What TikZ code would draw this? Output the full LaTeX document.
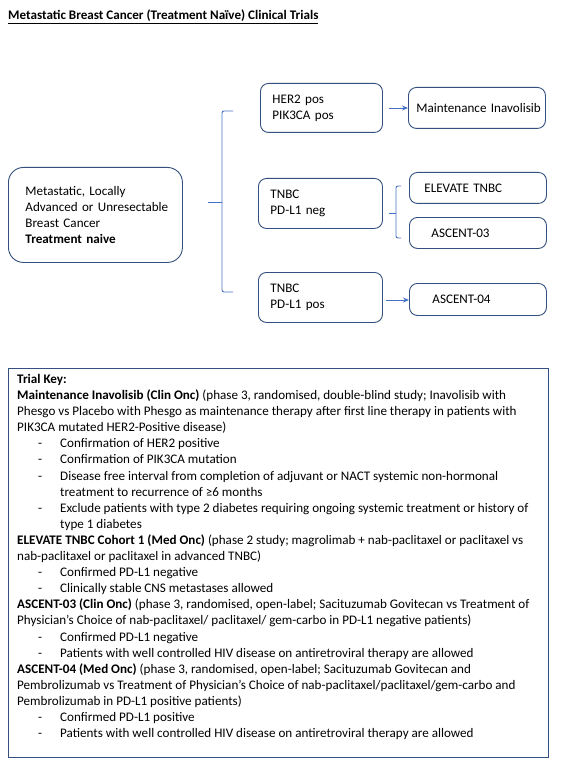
\documentclass[tikz,border=0pt]{standalone}
\usepackage{fontspec}
\setmainfont{Carlito}
\usetikzlibrary{arrows.meta}
\definecolor{boxline}{HTML}{34507E}
\definecolor{linkblue}{HTML}{4472C4}
\definecolor{keyline}{HTML}{34507E}
\newcommand{\bul}{\makebox[43pt][l]{\hspace{21pt}-}}
\newcommand{\ind}{\hspace{43pt}}
\newcommand{\oneln}[1]{\mbox{#1}}
\begin{document}
\begin{tikzpicture}[x=1pt,y=-1pt,
  every node/.style={font=\fontsize{13.1}{16.1}\selectfont, text=black},
  rbox/.style={draw=boxline, line width=0.9pt, rounded corners=8pt, align=left, anchor=north west, inner ysep=0pt},
  link/.style={draw=linkblue, line width=0.9pt, -{Stealth[length=6pt,width=5pt]}},
  brk/.style={draw=linkblue, line width=0.9pt, rounded corners=2pt}]
\useasboundingbox (0,0) rectangle (561,767);
\fill[white] (0,0) rectangle (561,767);

\node[anchor=west, inner sep=0pt, font=\fontsize{13.1}{16}\selectfont\bfseries] (title) at (8,17) {\underline{Metastatic Breast Cancer (Treatment Naïve) Clinical Trials}};

% main box
\node[rbox, rounded corners=15pt, minimum width=174pt, minimum height=95pt, text width=140pt, inner xsep=17pt] (main) at (8,167)
  {\oneln{Metastatic, Locally}\\\oneln{Advanced or Unresectable}\\\oneln{Breast Cancer}\\\oneln{\textbf{Treatment naive}}};

% bracket 1
\coordinate (b1t) at (233,111);
\coordinate (b1b) at (233,292);
\coordinate (b1m) at (208,202);
\draw[brk] (b1t) -- (222,111) -- (222,292) -- (b1b);
\draw[brk] (b1m) -- (222,202);

% HER2 box
\node[rbox, minimum width=122pt, minimum height=49pt, text width=98pt, inner xsep=12pt] (her2) at (260,83)
  {\oneln{HER2 pos}\\\oneln{PIK3CA pos}};
\node[rbox, minimum width=137pt, minimum height=41pt, text width=129pt, inner xsep=4pt] (inav) at (408,87)
  {\oneln{\hspace{4pt}Maintenance Inavolisib}};
\draw[link] ([xshift=6pt]her2.east |- 0,108) -- (inav.west |- 0,108);

% TNBC neg
\node[rbox, minimum width=124pt, minimum height=50pt, text width=100pt, inner xsep=12pt] (neg) at (258,178)
  {\oneln{TNBC}\\\oneln{PD-L1 neg}};
\node[rbox, minimum width=137pt, minimum height=31pt, text width=115pt, inner xsep=11pt] (elev) at (409,172)
  {\oneln{\hspace{4pt}ELEVATE TNBC}};
\node[rbox, minimum width=137pt, minimum height=31pt, text width=115pt, inner xsep=11pt] (a03) at (409,217)
  {\oneln{\hspace{11pt}ASCENT-03}};
\coordinate (b2t) at (401,186);
\coordinate (b2b) at (401,238);
\coordinate (b2m) at (389,213);
\draw[brk] (b2t) -- (396,186) -- (396,238) -- (b2b);
\draw[brk] (b2m) -- (396,213);

% TNBC pos
\node[rbox, minimum width=124pt, minimum height=50pt, text width=100pt, inner xsep=12pt] (pos) at (258,272)
  {\oneln{TNBC}\\\oneln{PD-L1 pos}};
\node[rbox, minimum width=137pt, minimum height=32pt, text width=115pt, inner xsep=11pt] (a04) at (409,283)
  {\oneln{\hspace{12pt}ASCENT-04}};
\draw[link] ([xshift=3pt]pos.east |- 0,300) -- (a04.west |- 0,300);

% key
\node[draw=keyline, line width=0.9pt, anchor=north west, minimum width=540pt, minimum height=389pt, inner sep=0pt] (key) at (8,368) {};
\node[anchor=north west, inner sep=0pt, align=left] (keytext) at (17,374) {%
\textbf{Trial Key:}\\
\textbf{Maintenance Inavolisib (Clin Onc)} (phase 3, randomised, double-blind study; Inavolisib with\\
Phesgo vs Placebo with Phesgo as maintenance therapy after first line therapy in patients with\\
PIK3CA mutated HER2-Positive disease)\\
\bul Confirmation of HER2 positive\\
\bul Confirmation of PIK3CA mutation\\
\bul Disease free interval from completion of adjuvant or NACT systemic non-hormonal\\
\ind treatment to recurrence of ≥6 months\\
\bul Exclude patients with type 2 diabetes requiring ongoing systemic treatment or history of\\
\ind type 1 diabetes\\
\textbf{ELEVATE TNBC Cohort 1 (Med Onc)} (phase 2 study; magrolimab + nab-paclitaxel or paclitaxel vs\\
nab-paclitaxel or paclitaxel in advanced TNBC)\\
\bul Confirmed PD-L1 negative\\
\bul Clinically stable CNS metastases allowed\\
\textbf{ASCENT-03 (Clin Onc)} (phase 3, randomised, open-label; Sacituzumab Govitecan vs Treatment of\\
Physician's Choice of nab-paclitaxel/ paclitaxel/ gem-carbo in PD-L1 negative patients)\\
\bul Confirmed PD-L1 negative\\
\bul Patients with well controlled HIV disease on antiretroviral therapy are allowed\\
\textbf{ASCENT-04 (Med Onc)} (phase 3, randomised, open-label; Sacituzumab Govitecan and\\
Pembrolizumab vs Treatment of Physician's Choice of nab-paclitaxel/paclitaxel/gem-carbo and\\
Pembrolizumab in PD-L1 positive patients)\\
\bul Confirmed PD-L1 positive\\
\bul Patients with well controlled HIV disease on antiretroviral therapy are allowed};
\end{tikzpicture}
\end{document}
